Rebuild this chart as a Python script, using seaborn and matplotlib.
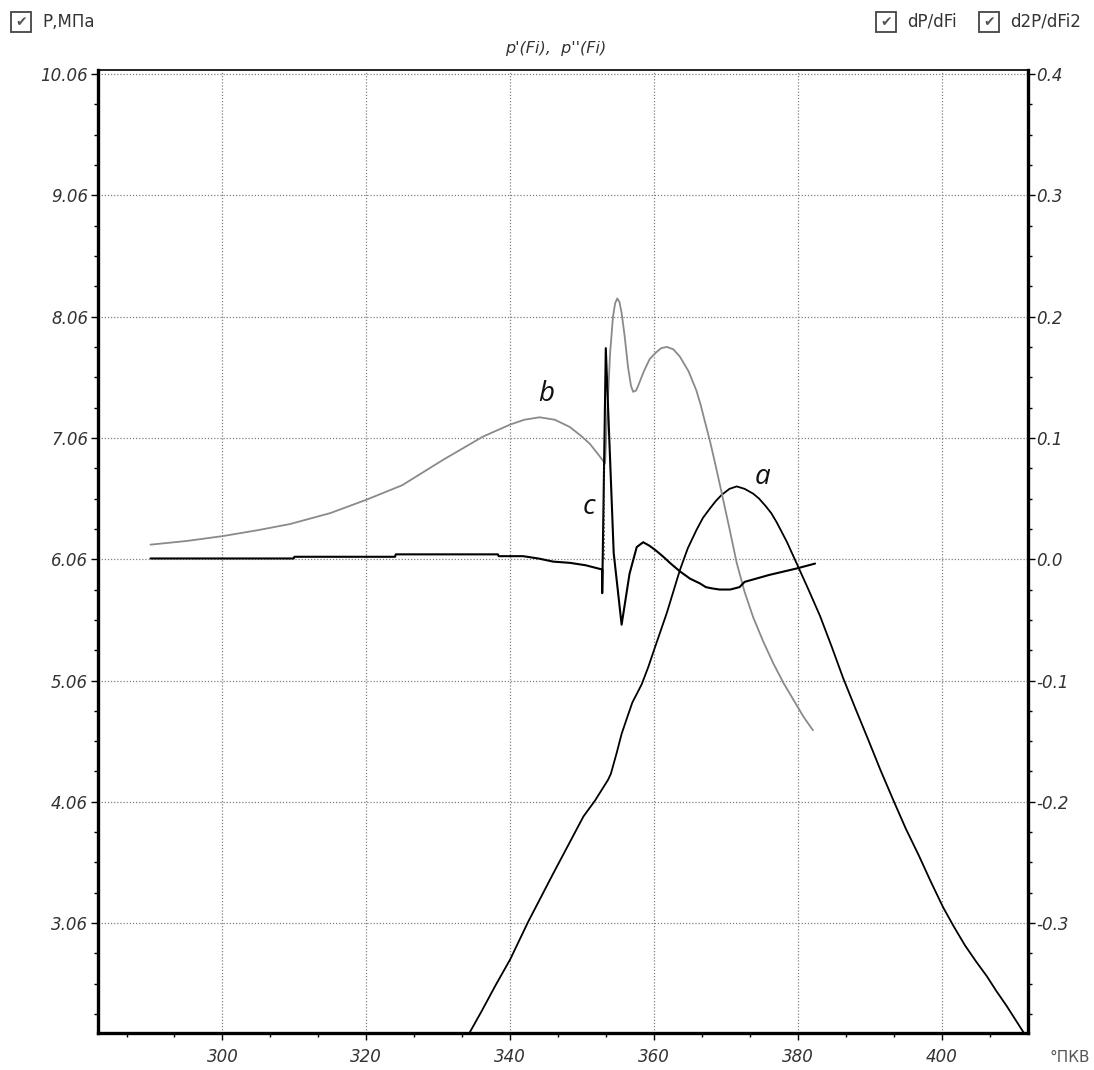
import matplotlib
matplotlib.use("Agg")
import matplotlib.pyplot as plt
from matplotlib.patches import Rectangle
from matplotlib.ticker import AutoMinorLocator
import numpy as np
import pandas as pd
import seaborn as sns

sns.set_style("white")
plt.rcParams['font.family'] = ['DejaVu Sans']

# pressure P, MPa (left axis) - curve a
a_phi = [334.3, 336, 338, 340, 342.5, 346, 350.2, 351.8, 353.6, 354.0, 354.8, 355.5,
         356.3, 357, 357.7, 358.3, 359.2, 360, 361.8, 363.6, 364.7, 365.9, 366.8,
         367.8, 368.6, 369.4, 370.5, 371.5, 372.6, 373.8, 374.6, 375.5, 376.3, 377.1,
         378.5, 379.8, 381.4, 383.1, 384.7, 386.3, 388, 389.8, 391.5, 393.3, 395,
         396.8, 398.5, 400.2, 401.7, 403.2, 404.7, 406.3, 407.6, 409, 410.4, 411.8]
a_p = [2.15, 2.33, 2.55, 2.76, 3.07, 3.47, 3.94, 4.07, 4.24, 4.29, 4.46, 4.62,
       4.76, 4.88, 4.96, 5.03, 5.17, 5.31, 5.62, 5.97, 6.15, 6.30, 6.40,
       6.48, 6.54, 6.59, 6.64, 6.66, 6.64, 6.60, 6.56, 6.50, 6.44, 6.36,
       6.20, 6.03, 5.82, 5.59, 5.34, 5.08, 4.83, 4.57, 4.32, 4.07, 3.84,
       3.62, 3.40, 3.19, 3.03, 2.88, 2.75, 2.62, 2.50, 2.38, 2.25, 2.12]

# dP/dFi (right axis) - curve b
b_phi = [290, 295, 300, 305, 309.4, 315, 320, 325, 330.7, 336.2, 340, 342, 344.1,
         346.2, 348.3, 350, 351.1, 352.3, 353.2, 353.5, 353.9, 354.3, 354.6, 354.9,
         355.2, 355.5, 355.9, 356.4, 356.8, 357.1, 357.5, 357.8, 358.6, 359.4, 360.2,
         361, 361.8, 362.7, 363.6, 364.8, 365.9, 366.5, 367.1, 367.8, 368.5, 369.4,
         370.5, 371.5, 372.6, 373.8, 375.2, 376.6, 378, 379.4, 380.8, 382.1]
b_dp = [0.012, 0.015, 0.019, 0.024, 0.029, 0.038, 0.049, 0.061, 0.082, 0.101, 0.111,
        0.115, 0.117, 0.115, 0.109, 0.101, 0.095, 0.086, 0.079, 0.12, 0.17, 0.2, 0.211,
        0.215, 0.212, 0.203, 0.185, 0.158, 0.143, 0.138, 0.139, 0.143, 0.155, 0.165,
        0.170, 0.174, 0.175, 0.173, 0.167, 0.155, 0.139, 0.127, 0.113, 0.097, 0.079,
        0.055, 0.025, -0.003, -0.027, -0.048, -0.068, -0.086, -0.102, -0.116,
        -0.130, -0.141]

# d2P/dFi2 (right axis) - curve c
c_phi = [290, 309.9, 310, 324, 324.1, 338.3, 338.4, 341.8, 344, 346, 348.3, 350.5,
         352.8, 352.8, 353.3, 354.4, 355.5, 356.6, 357.6, 358.5, 359.4, 360.3, 361.3,
         362.4, 363.6, 365, 366.4, 367.2, 368, 369.1, 370.6, 371.9, 372.6, 376,
         379.8, 382.4]
c_d2p = [0.0006, 0.0006, 0.002, 0.002, 0.004, 0.004, 0.0025, 0.0025, 0.0005, -0.002,
         -0.003, -0.005, -0.0085, -0.028, 0.174, 0.005, -0.054, -0.012, 0.010, 0.014,
         0.011, 0.007, 0.002, -0.004, -0.010, -0.016, -0.020, -0.023, -0.024, -0.025,
         -0.025, -0.023, -0.0187, -0.013, -0.0077, -0.0036]

ign_phi = 353.1  # dotted marker under the end of b

left_ticks = [3.06, 4.06, 5.06, 6.06, 7.06, 8.06, 9.06, 10.06]
right_ticks = [-0.3, -0.2, -0.1, 0.0, 0.1, 0.2, 0.3, 0.4]
x_ticks = [300, 320, 340, 360, 380, 400]

W, H = 1094, 1070
fig = plt.figure(figsize=(W / 100, H / 100), dpi=100)
ax = fig.add_axes([98 / W, 1 - 1033 / H, 930 / W, 963 / H])
ax2 = ax.twinx()

sns.lineplot(x=a_phi, y=a_p, ax=ax, color="black", lw=1.3,
             sort=False, estimator=None, legend=False)
sns.lineplot(x=b_phi, y=b_dp, ax=ax2, color="#8a8a8a", lw=1.3,
             sort=False, estimator=None, legend=False)
sns.lineplot(x=c_phi, y=c_d2p, ax=ax2, color="black", lw=1.5,
             sort=False, estimator=None, legend=False)
ax2.plot([ign_phi, ign_phi], [0.0, b_dp[b_phi.index(353.2)]], color="#222",
         lw=1.1, linestyle=(0, (1, 1.5)))

ax.set_xlim(282.7, 412.0)
ax.set_ylim(2.154, 10.093)
ax2.set_ylim(-0.3906, 0.4033)

tick_col = "#333333"
ax.set_xticks(x_ticks)
ax.set_xticklabels([str(v) for v in x_ticks], fontstyle="italic", fontsize=12, color=tick_col)
ax.set_yticks(left_ticks)
ax.set_yticklabels([f"{v:.2f}" for v in left_ticks], fontstyle="italic", fontsize=12, color=tick_col)
ax2.set_yticks(right_ticks)
ax2.set_yticklabels([f"{v:.1f}" for v in right_ticks], fontstyle="italic", fontsize=12, color=tick_col)
ax.xaxis.set_minor_locator(AutoMinorLocator(3))
ax.yaxis.set_minor_locator(AutoMinorLocator(4))
ax2.yaxis.set_minor_locator(AutoMinorLocator(4))

for a_ in (ax, ax2):
    a_.tick_params(which="major", direction="out", length=5, width=1, color="black", pad=2)
    a_.tick_params(which="minor", direction="out", length=3, width=1, color="black")
ax.tick_params(axis="x", which="major", pad=6)
ax.tick_params(axis="y", which="both", left=True, right=False)
ax.tick_params(axis="x", which="both", bottom=True, top=False)
ax2.tick_params(axis="y", which="both", right=True, left=False, pad=1)

ax.grid(True, which="major", color="#808080", lw=0.9, linestyle=(0, (1, 1.5)))
ax2.grid(False)

ax.spines["left"].set_linewidth(2.4)
ax.spines["bottom"].set_linewidth(2.4)
ax.spines["top"].set_linewidth(1.2)
ax.spines["right"].set_visible(False)
for s in ("left", "bottom", "top"):
    ax2.spines[s].set_visible(False)
ax2.spines["right"].set_linewidth(2.4)
for s in ax.spines.values():
    s.set_color("black")
ax2.spines["right"].set_color("black")

# curve letters
lab_font = dict(family="Open Sans", fontstyle="italic", fontsize=20, color="#111",
                ha="center", va="center")
ax.text(375.1, 6.74, "a", **lab_font)
ax.text(345.0, 7.42, "b", **lab_font)
ax.text(351.0, 6.49, "c", **lab_font)

# title and unit
fig.text(556 / W, 1 - 48 / H, "p'(Fi),  p''(Fi)", fontstyle="italic", fontsize=11.5,
         color="#333", ha="center", va="center")
fig.text(1090 / W, 1 - 1057 / H, "°ПКВ", fontsize=11, color="#555", ha="right", va="center")

# check boxes
def checkbox(x_px, label):
    fig.patches.append(Rectangle((x_px / W, 1 - 32 / H), 20 / W, 20 / H,
                                 transform=fig.transFigure, facecolor="white",
                                 edgecolor="#444", lw=1.3))
    fig.text((x_px + 10) / W, 1 - 22 / H, "✔", fontsize=10, color="#555",
             ha="center", va="center")
    fig.text((x_px + 31) / W, 1 - 22 / H, label, fontsize=12, color="#333",
             ha="left", va="center")

checkbox(11, "P,МПа")
checkbox(876, "dP/dFi")
checkbox(979, "d2P/dFi2")

fig.savefig("out.png", dpi=100, facecolor="white")
